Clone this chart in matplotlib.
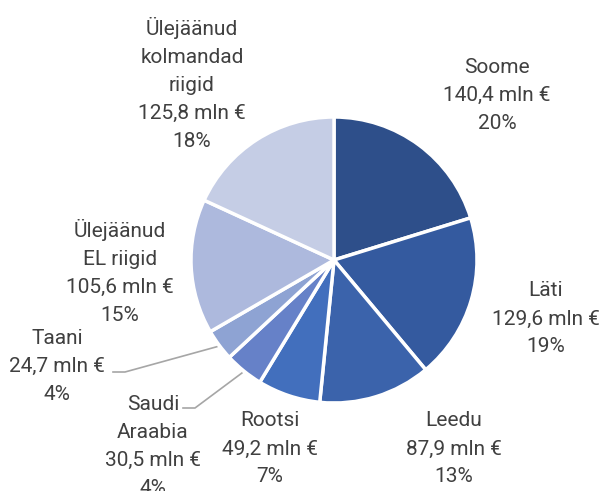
import numpy as np
import matplotlib
matplotlib.use("Agg")
import matplotlib.pyplot as plt

countries = ["Soome", "Läti", "Leedu", "Rootsi", "Saudi\nAraabia", "Taani",
             "Ülejäänud\nEL riigid", "Ülejäänud\nkolmandad\nriigid"]
values = [140.4, 129.6, 87.9, 49.2, 30.5, 24.7, 105.6, 125.8]
colors = ["#2E4F8A", "#345A9F", "#3B63AB", "#426FBD", "#6681C8", "#8EA3D3",
          "#ADB9DD", "#C5CDE5"]

# label block centres in pixel coords (x, y from top)
label_pos = [(497, 95), (546, 319), (454, 449), (270, 449), (153, 446),
             (57, 366), (120, 272), (192, 84)]
# leader lines: (elbow, end) for the small slices
leaders = {4: ((195, 408), (183, 408)), 5: ((125, 372), (113, 372))}

W, H = 601, 491
cx, cy, R = 334, 260, 143

plt.rcParams['font.family'] = ['Roboto', 'DejaVu Sans']
fig = plt.figure(figsize=(W / 100, H / 100), dpi=100)
ax = fig.add_axes([0, 0, 1, 1])

wedges, _ = ax.pie(values, colors=colors, startangle=90, counterclock=False,
                   center=(cx, H - cy), radius=R,
                   wedgeprops=dict(edgecolor='white', linewidth=2.5))
ax.set_xlim(0, W)
ax.set_ylim(0, H)
ax.set_aspect('equal')
ax.axis('off')

total = sum(values)
for i, (name, v) in enumerate(zip(countries, values)):
    pct = round(v / total * 100)
    txt = f"{name}\n{str(v).replace('.', ',')} mln €\n{pct}%"
    x, y = label_pos[i]
    ax.text(x, H - y, txt, ha='center', va='center', fontsize=15,
            color='#404040', linespacing=1.6)

for i, (elbow, end) in leaders.items():
    w = wedges[i]
    ang = np.deg2rad((w.theta1 + w.theta2) / 2)
    ax_ = cx + 1.02 * R * np.cos(ang)
    ay_ = (H - cy) + 1.02 * R * np.sin(ang)
    ax.plot([ax_, elbow[0], end[0]], [ay_, H - elbow[1], H - end[1]],
            color='#A6A6A6', linewidth=1.2, zorder=0)

fig.savefig("out.png", dpi=100)
